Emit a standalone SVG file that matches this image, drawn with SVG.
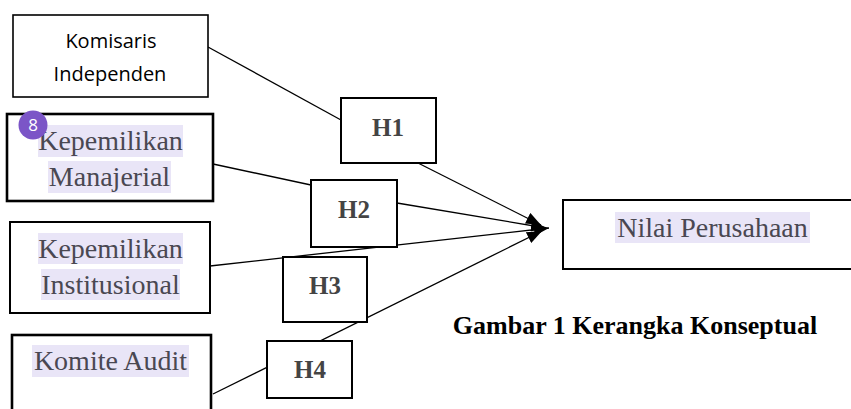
<svg xmlns="http://www.w3.org/2000/svg" width="851" height="409" viewBox="0 0 851 409">
<defs>
<style>
.box{fill:#fff;stroke:#000;stroke-width:2}
.hl{fill:#e9e5f7}
.ser{font-family:"Liberation Serif","Times New Roman",serif;font-size:28px;fill:#4a4852;text-anchor:middle}
.sans{font-family:"Open Sans","Noto Sans",sans-serif;font-size:20px;fill:#000;text-anchor:middle}
.h{font-family:"Liberation Serif","Times New Roman",serif;font-size:25px;font-weight:bold;fill:#444;text-anchor:middle}
.cap{font-family:"Liberation Serif","Times New Roman",serif;font-size:26px;font-weight:bold;fill:#000;text-anchor:middle}
.ln{fill:none;stroke:#000;stroke-width:1.3}
</style>
<marker id="arr" markerUnits="userSpaceOnUse" markerWidth="16" markerHeight="12" refX="15" refY="6" orient="auto">
<path d="M0,0 L15,6 L0,12 z" fill="#000"/>
</marker>
</defs>
<g id="connectors">
<line class="ln" x1="208" y1="47" x2="341" y2="120"/>
<line class="ln" x1="418" y1="163" x2="541" y2="225" marker-end="url(#arr)"/>
<line class="ln" x1="213" y1="164" x2="311" y2="185"/>
<line class="ln" x1="397" y1="203" x2="546" y2="228" marker-end="url(#arr)"/>
<line class="ln" x1="210" y1="266" x2="549" y2="228" marker-end="url(#arr)"/>
<line class="ln" x1="213" y1="394" x2="542" y2="231" marker-end="url(#arr)"/>
</g>
<g id="komisaris">
<rect class="box" x="13" y="15" width="195" height="82" style="stroke-width:1.6"/>
<text class="sans" x="111" y="48">Komisaris</text>
<text class="sans" x="110" y="81">Independen</text>
</g>
<g id="manajerial">
<rect class="box" x="7" y="114" width="206" height="87" style="stroke-width:2.6"/>
<rect class="hl" x="38" y="125" width="145" height="32"/>
<rect class="hl" x="48" y="161" width="123" height="32"/>
<text class="ser" x="110.5" y="150">Kepemilikan</text>
<text class="ser" x="109.5" y="186">Manajerial</text>
</g>
<g id="badge">
<circle cx="33" cy="125" r="14.5" fill="#7b55c7"/>
<text x="33" y="131" font-family="Open Sans, Noto Sans, sans-serif" font-size="17" fill="#fff" text-anchor="middle">8</text>
</g>
<g id="institusional">
<rect class="box" x="10" y="222" width="200" height="91"/>
<rect class="hl" x="38" y="233" width="145" height="31"/>
<rect class="hl" x="41" y="269" width="139" height="31"/>
<text class="ser" x="110.5" y="258">Kepemilikan</text>
<text class="ser" x="110.5" y="294">Institusional</text>
</g>
<g id="komite">
<rect class="box" x="12" y="335" width="199" height="90" style="stroke-width:2.6"/>
<rect class="hl" x="32" y="345" width="157" height="32"/>
<text class="ser" x="110.5" y="370">Komite Audit</text>
</g>
<g id="h1">
<rect class="box" x="341" y="98" width="95" height="65"/>
<text class="h" x="388" y="136">H1</text>
</g>
<g id="h2">
<rect class="box" x="311" y="180" width="86" height="67"/>
<text class="h" x="354" y="218">H2</text>
</g>
<g id="h3">
<rect class="box" x="283" y="257" width="84" height="65"/>
<text class="h" x="325" y="294">H3</text>
</g>
<g id="h4">
<rect class="box" x="267" y="341" width="85" height="57"/>
<text class="h" x="310" y="378">H4</text>
</g>
<g id="nilai">
<rect class="box" x="563" y="200" width="300" height="69"/>
<rect class="hl" x="615" y="212" width="195" height="31"/>
<text class="ser" x="712.5" y="237">Nilai Perusahaan</text>
</g>
<text class="cap" x="635" y="334">Gambar 1 Kerangka Konseptual</text>
</svg>
